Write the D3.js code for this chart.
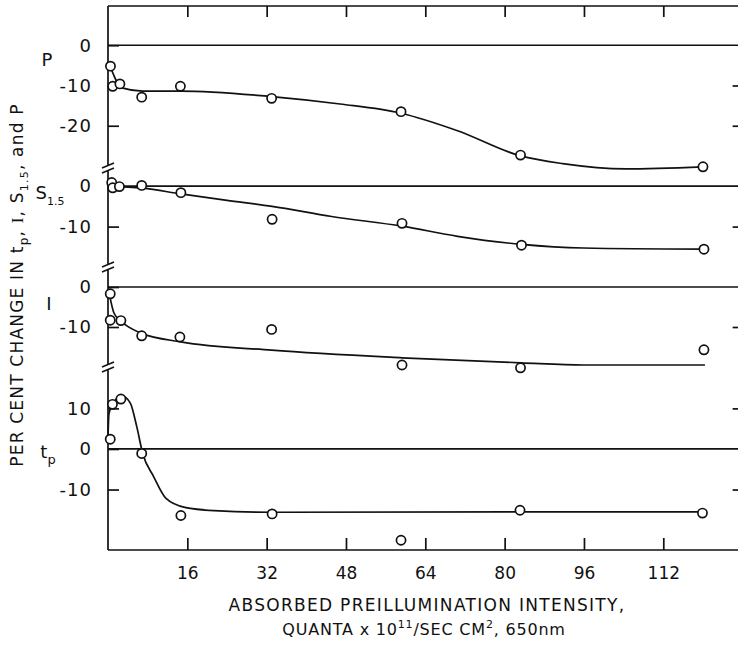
<!DOCTYPE html>
<html>
<head>
<meta charset="utf-8">
<script src="https://cdn.jsdelivr.net/npm/d3@7"></script>
<style>
  body { margin: 0; background: #fff; }
  svg { display: block; background: #fff; }
  text { font-family: "DejaVu Sans", sans-serif; fill: #111; }
  .tick line { stroke: #111; stroke-width: 1.7; }
</style>
</head>
<body>
<svg width="738" height="650"></svg>
<script>
// x axis
const xTicks = [16, 32, 48, 64, 80, 96, 112];

// measured points, one pair of arrays per quantity
const pX = [0.5, 0.95, 2.4, 6.8, 14.6, 33.0, 59.1, 83.2, 120.0];
const pY = [-5.2, -10.2, -9.6, -12.9, -10.2, -13.2, -16.5, -27.3, -30.2];
const sX = [0.75, 0.95, 2.3, 6.8, 14.7, 33.1, 59.3, 83.4, 120.2];
const sY = [0.9, -0.4, -0.1, 0.2, -1.6, -8.2, -9.2, -14.6, -15.6];
const iX = [0.45, 0.45, 2.6, 6.8, 14.5, 33.0, 59.3, 83.2, 120.2];
const iY = [-1.7, -8.3, -8.4, -12.2, -12.5, -10.6, -19.5, -20.2, -15.7];
const tpX = [0.45, 0.9, 2.6, 6.8, 14.7, 33.1, 59.1, 83.1, 119.9];
const tpY = [2.4, 11.0, 12.3, -1.1, -16.4, -16.0, -22.5, -15.1, -15.8];

// hand drawn fitted curves
const pCurveX = [0.5, 2.8, 7.0, 14.7, 33.0, 46.8, 59.1, 70.5, 83.2, 91.7, 104.4, 120.0];
const pCurveY = [-5.4, -10.6, -11.4, -11.4, -12.75, -14.6, -16.9, -21.25, -27.5, -29.4, -30.7, -30.2];
const sCurveX = [0, 7.0, 14.7, 24.0, 33.1, 45.1, 59.3, 70.5, 83.4, 95.9, 120.2];
const sCurveY = [0, -0.5, -1.9, -3.5, -5.0, -7.5, -9.9, -12.4, -14.4, -15.3, -15.6];
const iCurveX = [0.3, 1.2, 2.6, 6.8, 14.7, 33.0, 59.3, 83.2, 95.9, 120.4];
const iCurveY = [-1.9, -6.5, -8.5, -11.6, -13.7, -15.8, -17.7, -18.95, -19.5, -19.5];
const tpCurveX = [0, 0.2, 1.55, 2.8, 4.5, 5.8, 7.0, 9.2, 11.7, 15.5, 21.4, 33.1, 83.1, 119.9];
const tpCurveY = [3, 8.8, 12.1, 13.1, 11.3, 5.5, -1.1, -6.8, -12.2, -14.4, -15.2, -15.6, -15.5, -15.5];

// y tick values per panel
const pTicks = [0, -10, -20];
const sTicks = [0, -10];
const iTicks = [0, -10];
const tpTicks = [10, 0, -10];

const svg = d3.select('svg');
const WIDTH = 738;
const TOP = 6;
const BOTTOM = 550;

const xScale = d3.scaleLinear().domain([0, 128]).range([108, 108 + 128 * 4.958]);
const X0 = xScale(0);
const XR = xScale(128);

const zip = (xs, ys) => xs.map((x, i) => ({ x, y: ys[i] }));

const panels = [
    { name: 'P', sub: '', pts: zip(pX, pY), curve: zip(pCurveX, pCurveY), ticks: pTicks, domain: [9.75, -30.5], range: [TOP, 168], labelX: 47, labelY: 66 },
    { name: 'S', sub: '1.5', pts: zip(sX, sY), curve: zip(sCurveX, sCurveY), ticks: sTicks, domain: [4.5, -20], range: [168, 267], labelX: 50, labelY: 199 },
    { name: 'I', sub: '', pts: zip(iX, iY), curve: zip(iCurveX, iCurveY), ticks: iTicks, domain: [5, -20], range: [267, 367], labelX: 49, labelY: 310 },
    { name: 't', sub: 'p', pts: zip(tpX, tpY), curve: zip(tpCurveX, tpCurveY), ticks: tpTicks, domain: [20.2, -24.9], range: [367, BOTTOM], labelX: 48, labelY: 458 }
];

// frame: top and bottom lines
svg.append('line').attr('x1', X0).attr('x2', WIDTH).attr('y1', TOP).attr('y2', TOP)
    .attr('stroke', '#111').attr('stroke-width', 1.7);
svg.append('line').attr('x1', X0).attr('x2', WIDTH).attr('y1', BOTTOM).attr('y2', BOTTOM)
    .attr('stroke', '#111').attr('stroke-width', 1.7);

const gBottom = svg.append('g').attr('transform', `translate(0,${BOTTOM})`)
    .call(d3.axisBottom(xScale).tickValues(xTicks).tickSize(-12).tickPadding(17));
gBottom.select('.domain').remove();
gBottom.selectAll('text').attr('font-size', 17).attr('font-family', '"DejaVu Sans", sans-serif');

const gTop = svg.append('g').attr('transform', `translate(0,${TOP})`)
    .call(d3.axisTop(xScale).tickValues(xTicks).tickSize(-11).tickFormat(''));
gTop.select('.domain').remove();

// left axis line with break marks
const breaks = panels.slice(1).map(p => p.range[0]);
const segs = [TOP, ...breaks.flatMap(b => [b - 2.5, b + 2.5]), BOTTOM];
for (let i = 0; i < segs.length; i += 2) {
    svg.append('line').attr('x1', X0).attr('x2', X0).attr('y1', segs[i]).attr('y2', segs[i + 1])
        .attr('stroke', '#111').attr('stroke-width', 1.7);
}
breaks.forEach(b => {
    [-2.5, 2.5].forEach(o => {
        svg.append('line')
            .attr('x1', X0 - 6).attr('y1', b + o + 2.5)
            .attr('x2', X0 + 6).attr('y2', b + o - 2.5)
            .attr('stroke', '#111').attr('stroke-width', 1.5);
    });
});

const line = d3.line().x(d => xScale(d.x)).curve(d3.curveMonotoneX);

panels.forEach(panel => {
    const yScale = d3.scaleLinear().domain(panel.domain).range(panel.range);
    const g = svg.append('g').attr('class', 'panel');

    const gLeft = g.append('g').attr('transform', `translate(${X0},0)`)
        .call(d3.axisLeft(yScale).tickValues(panel.ticks).tickSize(-11).tickPadding(16)
            .tickFormat(d => String(d)));
    gLeft.select('.domain').remove();
    gLeft.selectAll('text').attr('font-size', 18).attr('letter-spacing', 1);

    const gRight = g.append('g').attr('transform', `translate(${XR},0)`)
        .call(d3.axisRight(yScale).tickValues(panel.ticks.filter(t => t !== 0)).tickSize(-10).tickFormat(''));
    gRight.select('.domain').remove();

    // zero line
    g.append('line')
        .attr('x1', X0).attr('x2', WIDTH)
        .attr('y1', yScale(0)).attr('y2', yScale(0))
        .attr('stroke', '#111').attr('stroke-width', 1.7);

    g.append('path')
        .attr('d', line.y(d => yScale(d.y))(panel.curve))
        .attr('fill', 'none')
        .attr('stroke', '#111')
        .attr('stroke-width', 1.7);

    g.selectAll('.point').data(panel.pts).enter().append('circle')
        .attr('class', 'point')
        .attr('cx', d => xScale(d.x))
        .attr('cy', d => yScale(d.y))
        .attr('r', 4.6)
        .attr('fill', '#fff')
        .attr('stroke', '#111')
        .attr('stroke-width', 1.7);

    const label = g.append('text')
        .attr('x', panel.labelX).attr('y', panel.labelY)
        .attr('text-anchor', 'middle')
        .attr('font-size', panel.name === 'I' ? 18 : 18)
        .attr('font-family', panel.name === 'I' ? '"Liberation Serif", serif' : '"DejaVu Sans", sans-serif');
    label.append('tspan').text(panel.name);
    if (panel.sub) {
        label.append('tspan').attr('dy', 6).attr('font-size', panel.sub === 'p' ? 13 : 11).text(panel.sub);
    }
});

// y axis title
const yTitle = svg.append('text')
    .attr('transform', 'translate(23,285) rotate(-90)')
    .attr('text-anchor', 'middle')
    .attr('font-size', 17)
    .attr('letter-spacing', 1.2);
yTitle.append('tspan').text('PER CENT CHANGE IN t');
yTitle.append('tspan').attr('dy', 5).attr('font-size', 12).text('p');
yTitle.append('tspan').attr('dy', -5).text(', ');
yTitle.append('tspan').attr('font-family', '"Liberation Serif", serif').text('I');
yTitle.append('tspan').text(', S');
yTitle.append('tspan').attr('dy', 5).attr('font-size', 11).text('1.5');
yTitle.append('tspan').attr('dy', -5).text(', and P');

// x axis title
svg.append('text')
    .attr('x', 427).attr('y', 611)
    .attr('text-anchor', 'middle')
    .attr('font-size', 17)
    .attr('letter-spacing', 1.3)
    .text('ABSORBED PREILLUMINATION INTENSITY,');

const xTitle2 = svg.append('text')
    .attr('x', 424).attr('y', 635)
    .attr('text-anchor', 'middle')
    .attr('font-size', 16)
    .attr('letter-spacing', 0.8);
xTitle2.append('tspan').text('QUANTA x 10');
xTitle2.append('tspan').attr('dy', -7).attr('font-size', 11).text('11');
xTitle2.append('tspan').attr('dy', 7).text('/SEC CM');
xTitle2.append('tspan').attr('dy', -7).attr('font-size', 11).text('2');
xTitle2.append('tspan').attr('dy', 7).text(', 650nm');
</script>
</body>
</html>
